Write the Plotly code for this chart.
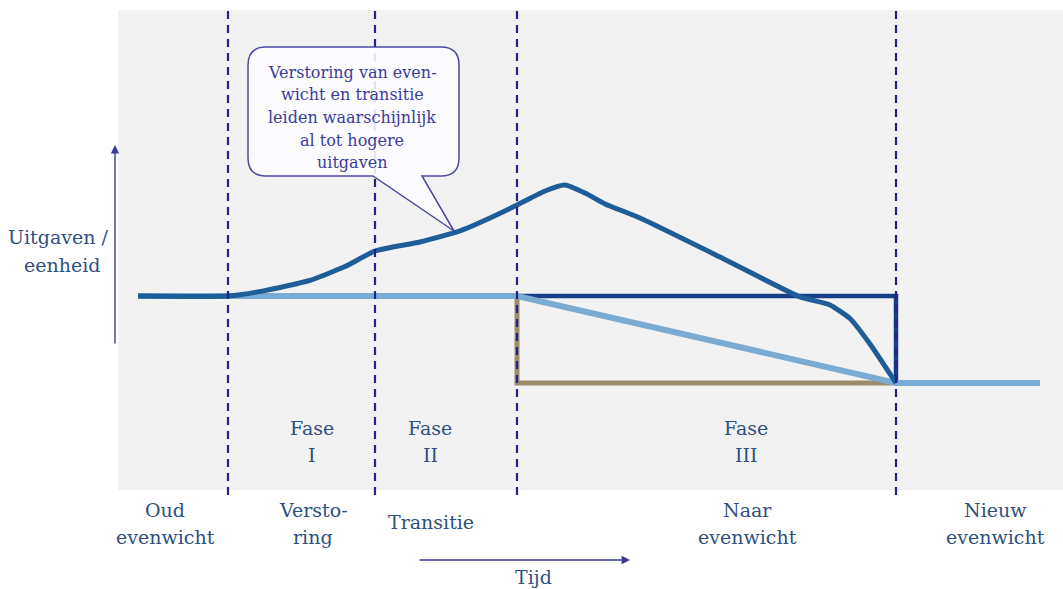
import plotly.graph_objects as go

# ---------------- data (time units along x, spending index along y) ----------------
phase_bounds = [228, 375, 517, 896]

curve_t = [138, 228, 265, 310, 345, 375, 420, 460, 490, 517, 545, 565, 585, 605, 640,
           720, 800, 830, 850, 870, 896]
curve_v = [100, 100, 101.8, 105.2, 109.8, 115, 118, 121.7, 126, 130.3, 135, 137, 134.3,
           130.7, 126, 113, 99.7, 97, 92.5, 84, 71]

light_t = [138, 517, 896, 1040]
light_v = [100, 100, 71, 71]

navy_t = [517, 896, 896]
navy_v = [100, 100, 71]

tan_t = [517, 517, 896]
tan_v = [100, 71, 71]

period_labels = [("Oud", "evenwicht"), ("Versto-", "ring"), ("Transitie",),
                 ("Naar", "evenwicht"), ("Nieuw", "evenwicht")]
period_x = [165, 313, 431, 747, 995]
phase_labels = [("Fase", "I"), ("Fase", "II"), ("Fase", "III")]
phase_x = [312, 430, 746]
callout_lines = ["Verstoring van even-", "wicht en transitie", "leiden waarschijnlijk",
                 "al tot hogere", "uitgaven"]

# ---------------- layout helpers ----------------
W, H = 1063, 589
def py(p):  # vertical page position (px from top) -> spending units
    return 100 + (296 - p) / 3.0

TXT = "#2f5080"
NAVY_TXT = "#3b3b9c"
FONT = "DejaVu Serif"

fig = go.Figure()

fig.add_trace(go.Scatter(x=tan_t, y=tan_v, mode="lines",
                         line=dict(color="#9c8b6b", width=5), hoverinfo="skip"))
fig.add_trace(go.Scatter(x=navy_t, y=navy_v, mode="lines",
                         line=dict(color="#173f86", width=4.5), hoverinfo="skip"))
fig.add_trace(go.Scatter(x=light_t, y=light_v, mode="lines",
                         line=dict(color="#7aabd2", width=6), hoverinfo="skip"))
fig.add_trace(go.Scatter(x=curve_t, y=curve_v, mode="lines",
                         line=dict(color="#1f5d98", width=5, shape="spline", smoothing=0.5),
                         hoverinfo="skip"))

shapes = [dict(type="rect", xref="x", yref="y", x0=118, x1=1063, y0=py(490), y1=py(10),
               fillcolor="#f2f2f2", line_width=0, layer="below")]
for b in phase_bounds:
    shapes.append(dict(type="line", xref="x", yref="y", x0=b, x1=b, y0=py(495), y1=py(10),
                       line=dict(color="#22228a", width=2.2, dash="8px,6px"), layer="above"))

# callout bubble
L, R, T, B = 248, 459, py(47), py(176)
rx, ry = 18, 6
tip_x, tip_y = 454, py(231)
path = (f"M {L+rx},{T} L {R-rx},{T} Q {R},{T} {R},{T-ry} L {R},{B+ry} Q {R},{B} {R-rx},{B} "
        f"L 422,{B} L {tip_x},{tip_y} L 373,{B} L {L+rx},{B} Q {L},{B} {L},{B+ry} "
        f"L {L},{T-ry} Q {L},{T} {L+rx},{T} Z")
shapes.append(dict(type="path", xref="x", yref="y", path=path,
                   fillcolor="rgba(253,253,255,0.88)", line=dict(color="#4a4aa2", width=1.5),
                   layer="above"))

ann = []
def txt(x, y, s, size=19, color=TXT):
    ann.append(dict(x=x, y=y, xref="x", yref="y", text=s, showarrow=False,
                    xanchor="center", yanchor="middle",
                    font=dict(family=FONT, size=size, color=color)))

for x, lines in zip(period_x, period_labels):
    if len(lines) == 1:
        txt(x, py(522), lines[0])
    else:
        txt(x, py(510), lines[0])
        txt(x, py(537), lines[1])
for x, lines in zip(phase_x, phase_labels):
    txt(x, py(428), lines[0])
    txt(x, py(455), lines[1])
for i, s in enumerate(callout_lines):
    txt(352, py(72 + i * 22.7), s, size=16, color=NAVY_TXT)

txt(58, py(237), "Uitgaven /")
txt(62, py(265), "eenheid")
txt(533, py(577), "Tijd")

# axis arrows
ann.append(dict(x=115, y=py(145), ax=115, ay=py(345), xref="x", yref="y", axref="x", ayref="y",
                text="", showarrow=True, arrowhead=2, arrowsize=1.2, arrowwidth=1.4,
                arrowcolor="#3a3a9a"))
ann.append(dict(x=630, y=py(560), ax=418, ay=py(560), xref="x", yref="y", axref="x", ayref="y",
                text="", showarrow=True, arrowhead=2, arrowsize=1.2, arrowwidth=1.4,
                arrowcolor="#3a3a9a"))

fig.update_layout(
    width=W, height=H, margin=dict(l=0, r=0, t=0, b=0),
    paper_bgcolor="white", plot_bgcolor="white", showlegend=False,
    xaxis=dict(range=[0, W], visible=False, fixedrange=True),
    yaxis=dict(range=[py(H), py(0)], visible=False, fixedrange=True),
    shapes=shapes, annotations=ann,
)

fig.write_html("out.html", config={"displayModeBar": False},
               post_script="document.body.style.margin='0';document.body.style.overflow='hidden';")
